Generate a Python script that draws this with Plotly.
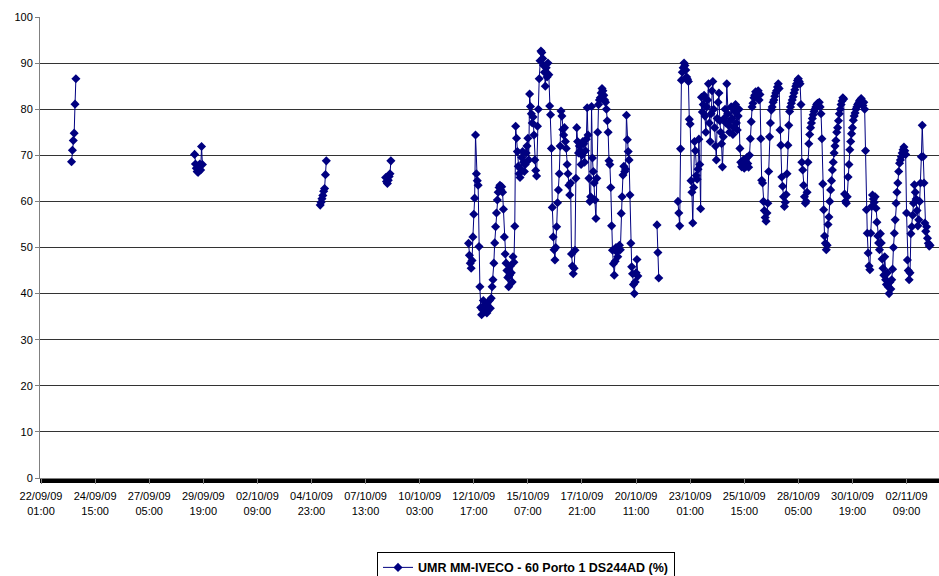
import pandas as pd
import plotly.graph_objects as go

# Hourly readings (%) — each run is a block of consecutive hours; gaps between runs are missing data
series_name = "UMR MM-IVECO - 60 Porto 1 DS244AD (%)"
axis_origin = "2009-09-22 01:00"
axis_end = "2009-11-03 22:12"

run_starts = [
    "2009-09-23 12:00",
    "2009-09-29 09:00",
    "2009-10-05 09:00",
    "2009-10-08 12:00",
    "2009-10-12 11:00",
    "2009-10-21 11:00",
    "2009-10-22 11:00",
]

run_1 = [68.6, 71.1, 73.2, 74.8, 81.1, 86.6]

run_2 = [70.2, 68.1, 67.2, 66.5, 66.3, 67.0, 68.1, 66.8, 71.9, 68.0]

run_3 = [59.2, 59.8, 60.6, 61.3, 62.2, 62.8, 65.8, 68.8]

run_4 = [65.2, 64.3, 63.9, 64.6, 65.4, 66.0, 68.8]

run_5 = [
    50.9, 48.3, 46.6, 45.5, 47.2, 52.3, 57.2, 60.7,
    74.4, 66.0, 64.5, 63.5,
    50.2, 41.5,
    37.0, 35.4, 36.5, 38.5, 37.5, 36.2, 37.6, 35.8, 36.5, 37.0, 38.5, 36.8, 39.0, 41.5,
    43.0, 46.6, 51.0, 54.5, 57.5, 60.3, 62.0, 63.0, 63.5,
    62.5, 63.2, 62.0, 58.3, 52.3, 48.6,
    46.6, 45.0, 43.5, 41.5, 44.0, 46.0, 44.5, 42.5, 48.0, 46.8, 54.6,
    76.3, 73.7, 70.8, 67.6, 66.0, 65.2, 67.0, 69.5, 70.8, 68.5, 66.5, 68.0, 70.5, 72.0, 73.7, 69.0,
    83.3, 80.6, 79.0, 77.0, 78.3, 74.4, 69.0, 66.7, 65.5, 76.3, 80.0,
    86.6, 90.5, 92.6, 92.3, 91.0, 89.5, 88.0, 85.0, 89.0, 87.0, 90.0, 87.5, 80.7,
    78.8, 71.5, 58.7, 52.3, 49.5, 47.3, 50.0, 54.5, 59.7, 62.5, 66.0, 72.0,
    79.6, 78.5, 75.6, 74.4, 76.0, 73.0, 71.5, 68.0, 66.0, 63.5, 61.4, 64.0,
    48.6, 46.0, 44.3, 45.5, 49.4,
    65.0, 76.0, 73.0, 70.5, 72.0, 71.0, 68.0, 70.0, 73.0, 72.5, 68.5, 71.0, 73.5,
    80.3, 74.4, 65.0, 60.0, 61.0, 80.6,
    69.4, 66.5, 64.0, 60.3, 56.3, 65.0, 75.0, 81.0, 82.0,
    82.5, 83.5, 84.5, 84.0, 83.0, 82.0, 81.5, 80.0, 77.5, 75.0,
    68.8, 68.0, 63.0, 54.7, 49.4, 46.5, 44.0, 47.0,
    50.0, 49.0, 48.0, 49.5, 50.5, 49.5, 57.4, 61.0, 65.7,
    67.6, 66.5, 67.0, 78.7, 73.4, 70.8, 69.0, 61.4, 50.9,
    45.8, 44.3, 42.0, 40.0, 42.5, 44.5, 47.4, 43.8,
]

run_6 = [54.9, 48.9, 43.4]

run_7 = [
    60.0, 57.5, 54.7, 71.4, 86.3,
    88.0, 89.0, 90.0, 89.5, 88.5, 87.0, 86.5, 86.0,
    77.8, 76.8, 64.5, 62.0, 55.3, 63.0, 73.0, 71.0, 65.6, 64.8, 67.0, 73.5, 68.0, 58.4, 82.6, 79.4,
    81.0, 83.0, 78.5, 75.0, 80.5, 82.0, 85.5, 77.0, 73.0, 79.0, 84.0, 86.0, 80.0, 76.0,
    72.0, 69.0, 78.0, 81.5, 83.5, 77.5, 75.0, 72.5, 67.5, 74.0, 78.0, 80.0, 77.0, 85.5,
    79.0, 76.5, 75.0, 77.5, 80.5, 78.0, 74.5, 76.0, 79.5, 81.0, 77.0, 75.5, 78.5, 80.0,
    71.5, 68.5, 67.5, 68.0, 69.0, 67.2, 68.3, 67.6, 69.5, 68.2, 67.4, 70.0, 73.6,
    77.3, 80.5, 81.3, 82.5, 83.0, 83.8, 82.6, 83.5, 84.0, 82.0, 83.2,
    73.6, 64.6, 64.0, 60.0, 58.0, 56.5, 55.7, 57.5, 59.6,
    66.5, 74.0, 77.0, 79.8, 80.5, 81.5, 82.0, 82.8, 83.5, 84.0, 84.8, 85.5, 84.5,
    75.5, 72.2, 65.3, 63.3, 61.0, 58.9, 59.8, 61.5,
    66.0, 72.2, 76.5, 79.5, 80.5, 81.3, 82.0, 82.7, 83.5, 84.2, 85.0, 85.5, 86.2, 86.6, 86.0, 85.5,
    81.0, 68.5, 66.8, 63.5, 61.0, 59.6, 60.0,
    62.0, 68.5, 72.5, 74.5, 76.0, 77.0, 78.0, 78.8, 79.5, 80.0, 80.5, 81.0, 81.3, 80.8, 81.5, 80.5, 79.0,
    73.6, 63.8, 58.2, 52.5, 50.9, 49.5, 50.5, 55.0,
    56.6, 60.0, 62.5, 64.5, 66.8, 68.5, 70.5, 72.0, 73.2, 75.0, 76.0, 77.5, 79.0, 80.0, 81.0, 81.8, 82.5, 82.2,
    61.6, 60.0, 59.6, 61.0,
    65.3, 68.0, 71.2, 73.0, 74.7, 76.0, 77.6, 78.5, 79.2, 80.0, 80.5, 81.0, 81.3, 81.8, 82.0, 82.3, 81.5, 80.8, 81.5, 80.0,
    71.0, 58.2, 53.1, 48.8, 46.0, 45.2,
    53.1, 58.9, 61.4, 60.5, 59.8, 61.0, 58.5, 55.5, 52.5, 51.0, 49.5, 53.0,
    51.0, 47.5, 45.5, 44.0, 48.0, 43.0, 42.0, 44.5, 41.5, 40.0, 42.5, 41.0, 43.0,
    45.3, 50.0, 53.1, 56.0, 59.6, 62.0, 64.0, 66.5, 68.3, 69.0, 69.7, 70.5, 71.2, 71.8, 71.0, 70.2,
    57.5, 47.3, 45.0, 43.0, 44.5,
    53.0, 54.5, 57.0, 59.6, 63.6, 62.0, 60.5, 58.0,
    54.7, 56.0, 60.0, 64.0, 69.7, 76.5, 69.7,
    64.0, 55.3, 53.5, 54.5, 52.0, 50.9, 50.3, 50.5,
]

runs = [run_1, run_2, run_3, run_4, run_5, run_6, run_7]

# Category labels every 62 hours, two-line date/time format
tick_count = 17
tick_step = "62h"

# Assemble hourly timestamps; None breaks the line between runs
xs, ys = [], []
for start, vals in zip(run_starts, runs):
    times = pd.date_range(start, periods=len(vals), freq="h")
    xs.extend(times)
    ys.extend(vals)
    xs.append(None)
    ys.append(None)

tick_times = pd.date_range(axis_origin, periods=tick_count, freq=tick_step)
tick_text = [t.strftime("%d/%m/%y<br>%H:%M") for t in tick_times]

x_lo = pd.Timestamp(axis_origin) - pd.Timedelta(minutes=69)

navy = "#000080"
font_family = "Liberation Sans, Arial, sans-serif"

fig = go.Figure()
fig.add_trace(go.Scatter(
    x=xs, y=ys,
    mode="lines+markers",
    name=series_name,
    connectgaps=False,
    line=dict(color=navy, width=1),
    marker=dict(symbol="diamond", size=7, color=navy, line=dict(width=0)),
))

fig.update_layout(
    width=939, height=576,
    margin=dict(l=40, r=0, t=17, b=98, autoexpand=False),
    paper_bgcolor="white",
    plot_bgcolor="white",
    font=dict(family=font_family, size=11, color="black"),
    showlegend=True,
    legend=dict(
        x=(377 - 40) / 899, xanchor="left",
        y=-0.160, yanchor="top",
        orientation="h",
        bgcolor="white",
        bordercolor="black", borderwidth=1,
        font=dict(family=font_family, size=12.5, color="black", weight="bold"),
        itemwidth=30,
    ),
    xaxis=dict(
        type="date",
        range=[x_lo, pd.Timestamp(axis_end)],
        tickmode="array",
        tickvals=list(tick_times),
        ticktext=tick_text,
        ticks="outside", ticklen=5, tickcolor="#808080",
        tickfont=dict(size=11),
        ticklabelstandoff=3,
        showgrid=False,
        showline=True, linecolor="#808080", linewidth=1,
        zeroline=False,
        minor=dict(ticks="outside", ticklen=4, tickcolor="black",
                   tickwidth=1, dtick=3600000, showgrid=False),
    ),
    yaxis=dict(
        range=[0, 100],
        tick0=0, dtick=10,
        ticks="outside", ticklen=4, tickcolor="#808080",
        tickfont=dict(size=11),
        showgrid=True, gridcolor="#333333", gridwidth=1,
        showline=True, linecolor="#808080", linewidth=1,
        zeroline=False,
    ),
)

fig.write_html("out.html")
